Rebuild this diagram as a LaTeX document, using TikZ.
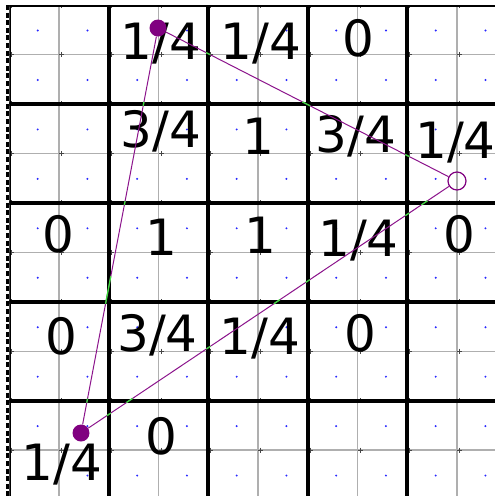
\documentclass[tikz,border=0pt]{standalone}
\usepackage{fontspec}
\newfontfamily\lblfont{DejaVu Sans}
\usetikzlibrary{calc}
\definecolor{gridgray}{RGB}{175,175,175}
\definecolor{markgray}{RGB}{70,70,70}
\definecolor{dotblue}{RGB}{40,40,255}
\definecolor{tripurple}{RGB}{140,20,140}
\definecolor{dotpurple}{RGB}{128,0,128}
\definecolor{overlapgreen}{RGB}{60,220,60}
\tikzset{
 thingrid/.style={draw=gridgray, line width=1.3pt},
 thickgrid/.style={draw=black, line width=4pt},
 crossmark/.style={draw=markgray, line width=1pt},
 lbl/.style={font=\lblfont\fontsize{50}{50}\selectfont, inner sep=0pt, anchor=base},
 triedge/.style={draw=tripurple, line width=1pt},
 greenmark/.style={draw=overlapgreen, line width=1.3pt},
 filleddot/.style={circle, fill=dotpurple, minimum size=17pt, inner sep=0pt},
 opendot/.style={circle, draw=dotpurple, line width=1.2pt, minimum size=18pt, inner sep=0pt},
 leftdash/.style={draw=black, line width=2.6pt, dash pattern=on 5pt off 2.6pt},
}
\begin{document}
\begin{tikzpicture}[x=1pt,y=-1pt]
\useasboundingbox (0,0) rectangle (495,496);
\fill[white] (0,0) rectangle (495,496);
\begin{scope}
\clip (9.3,5) rectangle (495,496);
\foreach \i in {0,...,9} {
  \path[thingrid] ({9.3+49.75*\i},0) -- ({9.3+49.75*\i},500);
  \path[thingrid] (0,{5+49.45*\i}) -- (500,{5+49.45*\i});
}
\foreach \i in {0,...,9} {
  \foreach \j in {0,...,9} {
    \fill[dotblue] ({9.3+49.75*\i+28.4},{5+49.45*\j+25.5}) circle (1.1pt);
    \path[crossmark] ({9.3+49.75*\i},{5+49.45*\j}) -- ++(5,0)
                     ({9.3+49.75*\i+2.5},{5+49.45*\j-2.5}) -- ++(0,5);
  }
}
\foreach \i in {0,2,4,6,8} {
  \path[thickgrid] ({9.3+49.75*\i},0) -- ({9.3+49.75*\i},500);
  \path[thickgrid] (0,{5+49.45*\i}) -- (500,{5+49.45*\i});
}
\end{scope}
\coordinate (dtop) at (7.6,5);
\coordinate (dbot) at (7.6,496);
\path[leftdash] (dtop) -- (dbot);

% labels
\node[lbl] (r1a) at (161,59) {1/4};
\node[lbl] (r1b) at (261,59) {1/4};
\node[lbl] (r1c) at (358,56) {0};
\node[lbl] (r2a) at (161,147) {3/4};
\node[lbl] (r2b) at (258,154) {1};
\node[lbl] (r2c) at (356,152) {3/4};
\node[lbl] (r2d) at (455.5,158) {1/4};
\node[lbl] (r3a) at (58.3,252) {0};
\node[lbl] (r3b) at (161.5,255) {1};
\node[lbl] (r3c) at (260,253) {1};
\node[lbl] (r3d) at (358.5,256) {1/4};
\node[lbl] (r3e) at (459,252) {0};
\node[lbl] (r4a) at (61,354) {0};
\node[lbl] (r4b) at (157.5,351) {3/4};
\node[lbl] (r4c) at (260,354) {1/4};
\node[lbl] (r4d) at (360,351) {0};
\node[lbl] (r5a) at (161,454) {0};
\node[lbl] (r5b) at (62,480) {1/4};

% triangle
\coordinate (pA) at (158,28);
\coordinate (pB) at (457,181);
\coordinate (pC) at (81,433);
\node[filleddot] (A) at (pA) {};
\node[opendot] (B) at (pB) {};
\node[filleddot] (C) at (pC) {};
\draw[triedge] (A) -- (B);
\draw[triedge] (B) -- (C);
\draw[triedge] (C) -- (A);
\foreach \a/\b in {0.161/0.175, 0.483/0.509, 0.827/0.841}
  \draw[greenmark] ($(pA)!\a!(pB)$) -- ($(pA)!\b!(pB)$);
\foreach \a/\b in {0.0785/0.0945, 0.1267/0.1373, 0.3917/0.4023, 0.471/0.487, 0.6557/0.6663, 0.863/0.879, 0.9207/0.9313}
  \draw[greenmark] ($(pB)!\a!(pC)$) -- ($(pB)!\b!(pC)$);
\foreach \a/\b in {0.075/0.085, 0.319/0.387, 0.563/0.573, 0.8076/0.8176}
  \draw[greenmark] ($(pC)!\a!(pA)$) -- ($(pC)!\b!(pA)$);
\end{tikzpicture}
\end{document}
